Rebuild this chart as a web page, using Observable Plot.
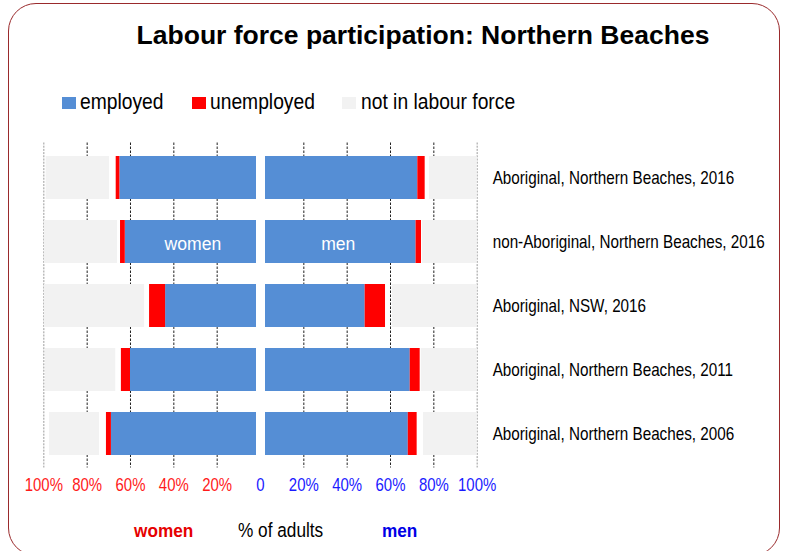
<!DOCTYPE html>
<html>
<head>
<meta charset="utf-8">
<script src="https://cdn.jsdelivr.net/npm/d3@7"></script>
<script src="https://cdn.jsdelivr.net/npm/@observablehq/plot@0.6"></script>
<style>
  html, body { margin: 0; padding: 0; background: #fff; }
  body { font-family: "Liberation Sans", Arial, sans-serif; }
  #frame { position: relative; width: 786px; height: 551px; overflow: hidden; }
  #border { position: absolute; left: 7.5px; top: 3px; width: 772.5px; height: 553px; border: 1.3px solid #9a2a2c; border-radius: 28px; box-sizing: border-box; }
  #title { position: absolute; left: 0; width: 846px; top: 20px; text-align: center; font-weight: bold; font-size: 26.5px; color: #000; }
  .lg-sw { position: absolute; top: 97.3px; width: 13.5px; height: 12px; }
  .lg-tx { position: absolute; top: 90.5px; font-size: 22px; line-height: 22px; color: #000; white-space: nowrap; transform-origin: left center; }
  #chart { position: absolute; left: 0; top: 130px; }
  #chart svg { display: block; }
  .cap { position: absolute; white-space: nowrap; line-height: 1; transform-origin: left center; }
</style>
</head>
<body>
<div id="frame">
  <div id="border"></div>
  <div id="title">Labour force participation: Northern Beaches</div>
  <div id="legend"></div>
  <div id="chart"></div>
  <div id="caption"></div>
</div>
<script>
const categories = [
  "Aboriginal, Northern Beaches, 2016",
  "non-Aboriginal, Northern Beaches, 2016",
  "Aboriginal, NSW, 2016",
  "Aboriginal, Northern Beaches, 2011",
  "Aboriginal, Northern Beaches, 2006"
];
const seriesNames = ["employed", "unemployed", "not stated", "not in labour force"];
const seriesColors = ["#558ed5", "#ff0000", "#ffffff", "#f2f2f2"];
const legendSeries = ["employed", "unemployed", "not in labour force"];

// percent of adults, women
const womenEmployed   = [64.9, 62.4, 43.8, 60.0, 68.8];
const womenUnemployed = [1.7, 2.2, 7.4, 4.2, 2.3];
const womenNotStated  = [3.1, 1.4, 2.3, 2.6, 3.2];
const womenNotInLF    = [29.2, 33.7, 46.2, 32.4, 23.1];
// percent of adults, men
const menEmployed   = [72.6, 71.8, 48.3, 69.1, 68.2];
const menUnemployed = [3.4, 2.5, 9.4, 4.6, 4.1];
const menNotStated  = [2.0, 0.5, 3.1, 0.5, 2.9];
const menNotInLF    = [22.0, 25.2, 39.2, 25.8, 24.8];

const tickValues = [-100, -80, -60, -40, -20, 0, 20, 40, 60, 80, 100];
const tickLabels = ["100%", "80%", "60%", "40%", "20%", "0", "20%", "40%", "60%", "80%", "100%"];

// build stacked segments
const segments = [];
const sexes = [
  {sex: "women", sign: -1, vals: [womenEmployed, womenUnemployed, womenNotStated, womenNotInLF]},
  {sex: "men", sign: 1, vals: [menEmployed, menUnemployed, menNotStated, menNotInLF]}
];
categories.forEach((cat, i) => {
  sexes.forEach(({sex, sign, vals}) => {
    let acc = 0;
    seriesNames.forEach((s, j) => {
      const v = vals[j][i];
      segments.push({cat, sex, series: s, x1: sign * acc, x2: sign * (acc + v), row: i});
      acc += v;
    });
  });
});
const ticks = tickValues.map((v, i) => ({v, label: tickLabels[i]}));

// legend (HTML, above the chart)
const legend = document.getElementById("legend");
const legendX = [[62, 80], [192, 209.5], [342, 360.5]];
legendSeries.forEach((s, k) => {
  const sw = document.createElement("div");
  sw.className = "lg-sw";
  sw.style.left = legendX[k][0] + "px";
  sw.style.background = seriesColors[seriesNames.indexOf(s)];
  legend.appendChild(sw);
  const tx = document.createElement("div");
  tx.className = "lg-tx";
  tx.style.left = legendX[k][1] + "px";
  tx.style.transform = "scaleX(0.875)";
  tx.textContent = s;
  legend.appendChild(tx);
});

// caption (HTML, below the chart)
const caption = document.getElementById("caption");
[
  {text: "women", cx: 163.3, top: 521.7, size: 18.5, color: "#e60000", weight: "bold", sx: 0.93},
  {text: "% of adults", cx: 280.8, top: 520, size: 20.5, color: "#000", weight: "normal", sx: 0.84},
  {text: "men", cx: 400, top: 521.7, size: 18.5, color: "#0000e6", weight: "bold", sx: 0.93}
].forEach(c => {
  const el = document.createElement("div");
  el.className = "cap";
  el.textContent = c.text;
  Object.assign(el.style, {top: c.top + "px", fontSize: c.size + "px", color: c.color, fontWeight: c.weight, left: "0px"});
  caption.appendChild(el);
  const w = el.getBoundingClientRect().width * c.sx;
  el.style.transform = `scaleX(${c.sx})`;
  el.style.left = (c.cx - w / 2) + "px";
});

const plot = Plot.plot({
  width: 786,
  height: 415,
  marginLeft: 43.33,
  marginRight: 309.33,
  marginTop: 12.5,
  marginBottom: 77.5,
  style: {fontFamily: "Liberation Sans, Arial, sans-serif", background: "transparent", overflow: "visible"},
  x: {domain: [-100, 100], axis: null},
  y: {domain: categories, axis: null, paddingInner: 0.3333, paddingOuter: 0.1667},
  color: {domain: seriesNames, range: seriesColors},
  marks: [
    Plot.ruleX(tickValues.filter(v => Math.abs(v) === 100), {x: d => d, stroke: "#9a9a9a", strokeDasharray: "2,1.2"}),
    Plot.ruleX(tickValues.filter(v => Math.abs(v) < 100 && v !== 0), {x: d => d, stroke: "#222", strokeDasharray: "2.5,1.5"}),
    Plot.barX(segments.filter(d => d.series === "employed" && d.sex === "women"),
      {x1: "x1", x2: "x2", y: "cat", fill: "series", insetRight: 4}),
    Plot.barX(segments.filter(d => d.series === "employed" && d.sex === "men"),
      {x1: "x1", x2: "x2", y: "cat", fill: "series", insetLeft: 5}),
    Plot.barX(segments.filter(d => d.series !== "employed" && d.series !== "not stated"),
      {x1: "x1", x2: "x2", y: "cat", fill: "series"}),
    Plot.text(segments.filter(d => d.row === 1 && d.series === "employed"),
      {x: d => (d.x1 + d.x2) / 2, y: "cat", dy: 2, text: "sex", fill: "#ffffff", fontSize: 17.6}),
    Plot.text(categories, {y: d => d, frameAnchor: "right", dx: 15.5, textAnchor: "start", fontSize: 18.6, fill: "#000"}),
    Plot.text(ticks.filter(d => d.v < 0), {x: "v", text: "label", frameAnchor: "bottom", dy: 22.5, fill: "#ff1a1a", fontSize: 17.7}),
    Plot.text(ticks.filter(d => d.v >= 0), {x: "v", text: "label", frameAnchor: "bottom", dy: 22.5, fill: "#1a1aff", fontSize: 17.7})
  ]
});

// horizontally condense the row labels and tick labels (the reference uses a narrow face)
const textGroups = plot.querySelectorAll('g[aria-label="text"]');
const condense = [[1, 0.82], [2, 0.845], [3, 0.845]];
condense.forEach(([gi, s]) => {
  const g = textGroups[gi];
  if (!g) return;
  g.querySelectorAll("text").forEach(t => {
    const tr = t.getAttribute("transform");
    if (tr) {
      t.setAttribute("transform", tr + ` scale(${s},1)`);
    } else {
      const x = +(t.getAttribute("x") || 0), y = +(t.getAttribute("y") || 0);
      t.removeAttribute("x"); t.removeAttribute("y");
      t.setAttribute("transform", `translate(${x},${y}) scale(${s},1)`);
    }
  });
});
document.getElementById("chart").appendChild(plot);
</script>
</body>
</html>
